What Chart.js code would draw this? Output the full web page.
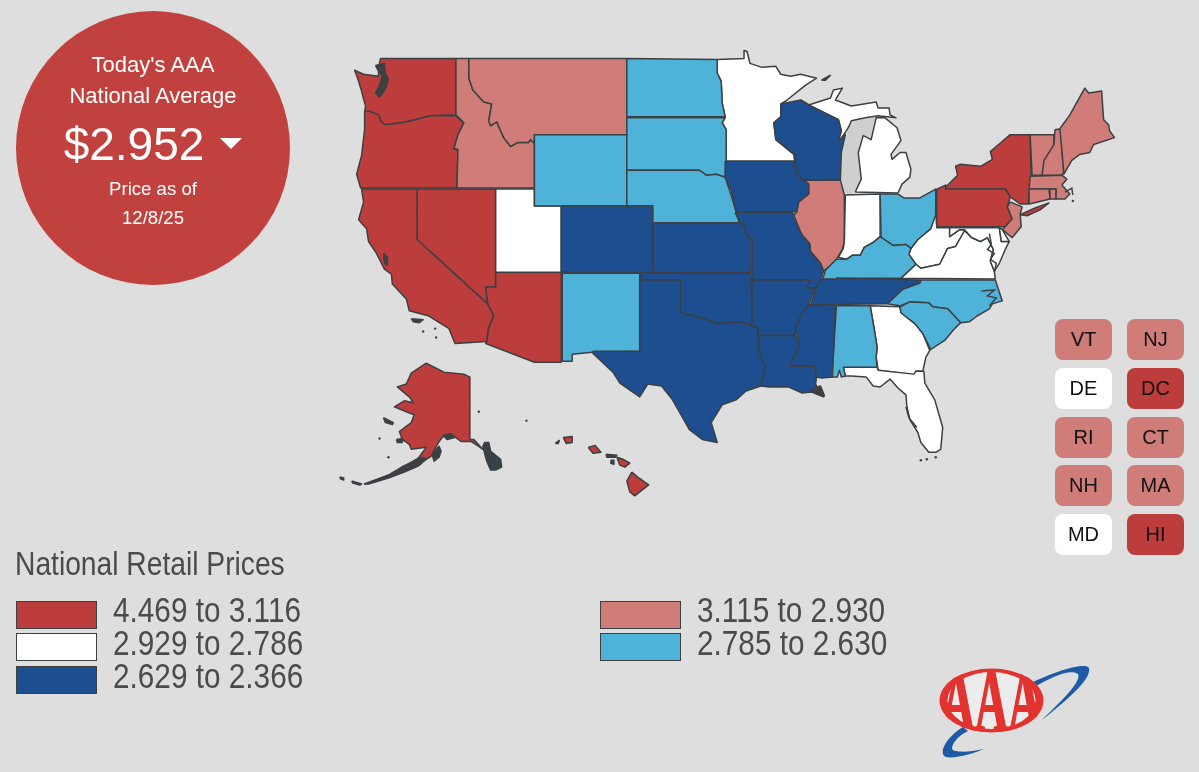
<!DOCTYPE html>
<html>
<head>
<meta charset="utf-8">
<title>AAA National Retail Prices</title>
<script src="https://cdn.jsdelivr.net/npm/chart.js@4"></script>
<style>
  html, body { margin: 0; padding: 0; background: #dedede; }
  #page { position: relative; width: 1199px; height: 772px; overflow: hidden; font-family: "Liberation Sans", Arial, sans-serif; }
  #map { position: absolute; left: 0; top: 0; }
  #badge { position: absolute; left: 16px; top: 11px; width: 274px; height: 274px; border-radius: 50%; background: #c0413e; }
  .bt { position: absolute; left: 16px; width: 274px; text-align: center; color: #fff; line-height: 1; white-space: nowrap; }
  #arrow { position: absolute; left: 220px; top: 138px; width: 0; height: 0; border-left: 11px solid transparent; border-right: 11px solid transparent; border-top: 11px solid #fff; }
  .tile { position: absolute; width: 57px; height: 41px; border-radius: 8px; text-align: center; line-height: 41px; font-size: 20px; color: #111; }
  #legendTitle, .lt { position: absolute; font-family: "Liberation Sans", sans-serif; color: #4b4b4d; white-space: nowrap; line-height: 1; transform-origin: left center; }
  #legendTitle { left: 15px; top: 547px; font-size: 33px; transform: scaleX(.855); }
  .lt { font-size: 35px; transform: scaleX(.85); }
  .sw { position: absolute; width: 79px; height: 26px; border: 1.5px solid #3c4043; }
  #logo { position: absolute; left: 920px; top: 650px; }
</style>
</head>
<body>
<div id="page">
  <canvas id="map" width="1199" height="772"></canvas>
  <div id="badge"></div>
  <div class="bt" style="top:54px;font-size:22px">Today's AAA</div>
  <div class="bt" style="top:85px;font-size:22px">National Average</div>
  <div class="bt" style="top:121px;font-size:46px;left:-3px">$2.952</div>
  <div id="arrow"></div>
  <div class="bt" style="top:180px;font-size:18.6px">Price as of</div>
  <div class="bt" style="top:209px;font-size:18.6px">12/8/25</div>
  <div id="tiles"></div>
  <div id="legendTitle">National Retail Prices</div>
  <div id="legend"></div>
  <svg id="logo" width="190" height="122" viewBox="920 650 190 122">
    <defs><clipPath id="oval"><ellipse cx="991.5" cy="700.5" rx="52" ry="32"/></clipPath></defs>
    <path d="M1033,682 C1058,670 1086,662 1089,668 C1092,680 1062,704 1042,720 C1060,702 1082,682 1078,674 C1070,668 1050,678 1036,686 Z" fill="#1f5aa6"/>
    <path d="M963,727 C945,738 938,754 946,757 C955,759 975,753 984,749 C970,752 955,753 952,749 C952,743 958,736 968,731 Z" fill="#1f5aa6"/>
    <ellipse cx="991.5" cy="700.5" rx="52" ry="32" fill="#e2332f"/>
    <ellipse cx="991.5" cy="700.5" rx="44" ry="28.5" fill="#ececec"/>
    <text clip-path="url(#oval)" x="991.5" y="731" text-anchor="middle" font-family="Liberation Serif" font-weight="bold" font-size="90" fill="#e2332f" stroke="#e2332f" stroke-width="2.2" textLength="100" lengthAdjust="spacingAndGlyphs">AAA</text>
  </svg>
</div>

<script>
// colours for the five price buckets
const RED = '#bc3d3b', PINK = '#d07c79', WHITE = '#ffffff', BLUE = '#1d4e8f', SKY = '#4fb3d9';
const LINE = '#3c4043', LAKE = '#cfcfcf';

// legend and tile values
const legendLabels = ['4.469 to 3.116', '2.929 to 2.786', '2.629 to 2.366', '3.115 to 2.930', '2.785 to 2.630'];
const legendColors = [RED, WHITE, BLUE, PINK, SKY];
const tileLabels = ['VT', 'NJ', 'DE', 'DC', 'RI', 'CT', 'NH', 'MA', 'MD', 'HI'];
const tileColors = [PINK, PINK, WHITE, RED, PINK, PINK, PINK, PINK, WHITE, RED];

// state outlines
const WA = [[379,55],[455,55],[455,112],[429,113],[410,118],[400,120],[384,122],[379,118],[377,112],[367,108],[363,109],[364,103],[362,96],[360,88],[356,75],[353,67],[362,71],[377,73],[377,65]];
const OR = [[363,109],[367,108],[377,112],[379,118],[384,122],[400,120],[410,118],[429,113],[455,113],[463,120],[457,132],[453,146],[457,148],[456,186],[359,186],[355,172],[360,153],[363,127]];
const ID = [[455,55],[468,55],[468,75],[472,87],[483,99],[491,101],[488,118],[490,123],[496,119],[503,135],[510,144],[517,140],[528,140],[530,137],[534,141],[534,186],[456,186],[457,147],[453,146],[457,132],[463,120],[455,112]];
const MT = [[468,55],[627,55],[627,132],[534,132],[534,141],[530,137],[528,140],[517,140],[510,144],[503,135],[496,119],[490,123],[488,118],[491,101],[483,99],[472,87],[468,75]];
const WY = [[534,132],[627,132],[627,204],[534,204]];
const ND = [[627,55],[718,56],[718,70],[722,78],[723,100],[726,114],[627,114]];
const SD = [[627,115],[726,115],[723,120],[727,127],[727,160],[726,175],[717,172],[707,173],[700,168],[627,168]];
const NE = [[627,168],[700,168],[707,173],[717,172],[726,175],[730,187],[735,203],[740,221],[653,221],[653,204],[627,204]];
const MN = [[718,56],[745,55],[745,47],[748,48],[751,60],[763,64],[777,63],[782,71],[792,73],[802,71],[818,75],[807,82],[787,98],[782,101],[782,114],[775,120],[777,137],[795,152],[796,159],[727,159],[727,127],[723,120],[726,114],[723,100],[722,78],[718,70]];
const IA = [[726,159],[796,159],[798,172],[810,182],[810,192],[800,200],[798,210],[737,210],[732,188],[726,175]];
const WI = [[782,101],[802,97],[812,103],[840,117],[843,128],[840,138],[847,132],[843,150],[842,177],[805,178],[798,172],[796,152],[777,137],[775,120],[782,114]];
const IL = [[805,178],[842,178],[846,193],[846,240],[844,248],[838,258],[832,264],[825,270],[822,262],[812,250],[811,242],[803,233],[794,215],[798,210],[800,200],[810,192],[810,182]];
const IN = [[847,193],[882,192],[882,235],[875,241],[866,246],[862,254],[854,254],[848,258],[840,256],[845,247],[846,240]];
const OH = [[882,192],[900,192],[906,196],[922,196],[938,187],[938,213],[933,227],[920,238],[913,247],[908,243],[895,244],[883,236]];
const MI_LOWER = [[857,190],[900,191],[904,182],[912,175],[913,167],[908,150],[902,150],[894,157],[893,152],[903,138],[899,125],[887,115],[878,115],[873,137],[865,133],[860,150],[863,177]];
const MI_UPPER = [[802,97],[810,102],[832,95],[835,87],[844,85],[837,97],[853,103],[878,99],[880,105],[891,105],[892,112],[898,115],[880,113],[867,115],[853,118],[850,125],[842,137],[840,138],[843,128],[840,117],[812,103]];
const KY = [[882,235],[895,244],[908,243],[913,247],[911,253],[918,263],[903,277],[838,277],[838,279],[824,279],[827,269],[832,264],[838,258],[848,258],[854,254],[862,254],[866,246],[875,241]];
const TN = [[838,277],[923,279],[922,282],[905,288],[890,302],[888,303],[812,304],[820,282],[823,278],[838,278]];
const NC = [[923,279],[998,279],[1005,300],[995,303],[992,308],[980,315],[972,321],[963,322],[950,308],[935,306],[931,302],[912,301],[902,305],[889,303],[905,288],[922,282]];
const SC = [[902,306],[912,301],[931,302],[935,306],[950,308],[963,322],[957,328],[947,340],[933,349],[925,333],[917,323],[903,312]];
const GA = [[872,305],[902,306],[903,312],[917,323],[925,333],[932,350],[928,357],[925,371],[918,371],[917,375],[880,370],[878,357],[879,347],[876,328]];
const AL = [[838,305],[872,305],[876,328],[879,347],[878,357],[879,367],[845,367],[847,376],[843,377],[841,370],[839,377],[833,377],[835,353]];
const FL = [[845,367],[879,367],[880,370],[916,374],[918,371],[926,371],[927,383],[937,400],[945,428],[943,450],[938,453],[931,453],[923,443],[920,433],[912,420],[909,407],[908,395],[900,388],[892,379],[882,387],[875,386],[868,377],[853,376],[847,376]];
const MS = [[810,304],[837,304],[835,353],[834,377],[823,378],[818,377],[816,366],[792,366],[792,363],[801,345],[797,327],[803,313]];
const LA = [[760,335],[797,335],[801,345],[792,365],[816,366],[818,377],[817,384],[825,397],[813,392],[803,393],[790,387],[770,387],[762,386],[766,367],[760,350]];
const AR = [[753,279],[812,279],[808,287],[817,287],[810,304],[803,313],[797,327],[797,335],[760,335],[759,327],[753,325]];
const MO = [[736,211],[794,211],[803,233],[811,242],[812,250],[822,262],[825,270],[820,287],[808,287],[812,279],[753,279],[753,237],[747,232],[745,223],[741,220]];
const KS = [[653,221],[740,221],[745,223],[747,232],[752,237],[752,271],[653,271]];
const CO = [[561,204],[653,204],[653,271],[561,271]];
const UT = [[495,187],[534,187],[534,204],[561,204],[561,271],[495,271]];
const NV = [[416,187],[495,187],[495,286],[485,286],[487,303],[416,238]];
const CA = [[360,187],[416,187],[416,238],[487,303],[493,315],[488,327],[486,341],[454,343],[448,328],[427,315],[408,310],[405,298],[391,283],[390,273],[383,268],[375,252],[367,240],[365,227],[357,218],[362,200]];
const AZ = [[495,271],[561,271],[561,362],[534,362],[485,343],[486,341],[488,327],[493,315],[487,303],[485,286],[495,286]];
const NM = [[562,272],[640,272],[640,351],[592,352],[572,354],[572,361],[562,361]];
const TX = [[640,279],[681,279],[681,312],[705,318],[718,323],[743,321],[753,326],[759,327],[760,350],[766,367],[762,386],[747,391],[737,400],[723,405],[712,423],[718,443],[703,440],[690,430],[673,400],[662,386],[648,384],[640,397],[620,383],[613,372],[593,353],[593,351],[640,351]];
const OK = [[641,272],[752,272],[753,325],[743,321],[718,323],[705,318],[681,312],[681,279],[641,279]];
const NY = [[948,185],[960,173],[958,164],[963,162],[983,164],[995,157],[993,149],[1013,132],[1033,132],[1034,173],[1031,202],[1023,202],[1013,195],[1008,187],[948,187]];
const LONG_ISLAND = [[1023,213],[1038,206],[1052,201],[1043,208],[1030,214]];
const PA = [[939,187],[948,183],[948,187],[1008,187],[1013,195],[1010,205],[1015,217],[1008,225],[939,225]];
const NJ = [[1013,200],[1025,205],[1023,212],[1024,225],[1015,236],[1005,228],[1015,217],[1010,205]];
const VT = [[1033,132],[1057,132],[1057,142],[1045,173],[1035,173]];
const NH = [[1058,127],[1064,126],[1065,148],[1067,170],[1065,173],[1045,173],[1047,158],[1057,142]];
const ME = [[1063,126],[1073,112],[1088,85],[1092,90],[1105,88],[1107,117],[1112,122],[1113,128],[1118,135],[1097,142],[1093,150],[1083,152],[1075,158],[1067,172],[1065,148]];
const MA = [[1033,174],[1065,173],[1070,177],[1065,183],[1073,192],[1068,197],[1059,197],[1059,187],[1032,187]];
const CT = [[1032,187],[1052,187],[1053,197],[1032,202]];
const RI = [[1053,187],[1059,187],[1059,197],[1053,197]];
const WV = [[938,210],[939,226],[952,226],[952,235],[962,228],[967,228],[974,236],[967,230],[958,245],[950,247],[942,263],[923,267],[918,263],[911,253],[913,247],[920,238],[933,227]];
const VA = [[903,277],[918,263],[923,267],[942,263],[950,247],[958,245],[967,229],[974,236],[983,240],[990,236],[996,248],[993,260],[997,270],[998,278]];
const MD = [[952,226],[1002,226],[1004,240],[1012,240],[1008,248],[1002,262],[997,270],[993,260],[996,248],[990,236],[983,240],[974,236],[967,228],[962,228],[952,235]];
const DE = [[1002,226],[1005,228],[1012,240],[1004,240]];
const AK = [[425,363],[443,372],[463,374],[469,377],[469,440],[473,440],[482,450],[478,447],[470,442],[460,442],[452,436],[442,437],[438,442],[430,457],[417,465],[403,472],[387,478],[367,484],[363,485],[387,477],[402,468],[417,459],[425,448],[410,450],[408,445],[401,440],[398,432],[410,423],[413,415],[405,412],[393,407],[403,401],[412,403],[409,398],[396,387],[405,384],[410,373]];
const HAWAII = [[632,473],[638,478],[649,486],[635,497],[630,493],[627,482]];
const MAUI = [[617,458],[623,460],[630,464],[625,468],[620,466]];
const OAHU = [[588,448],[595,446],[601,453],[593,454]];
const KAUAI = [[563,438],[572,437],[572,443],[566,444]];

// water and dark island clusters
const LAKE_MICHIGAN = [[843,128],[847,132],[843,150],[842,177],[846,193],[857,190],[863,177],[860,150],[865,133],[873,137],[878,115],[867,115],[853,118],[850,125]];
const PUGET = [[374,62],[383,60],[384,70],[387,76],[384,86],[378,94],[374,90],[378,82],[381,73],[376,66]];
const PANHANDLE = [[482,447],[484,443],[488,443],[490,452],[500,460],[501,468],[495,471],[490,471],[486,462]];
const PENINSULA = [[421,458],[425,460],[417,467],[403,473],[387,479],[367,485],[363,485],[387,476],[402,467]];
const KODIAK = [[431,455],[438,447],[440,452],[438,458],[433,462]];
const COOK_INLET = [[442,436],[450,434],[454,438],[446,440]];
const ST_LAWRENCE = [[382,418],[392,423],[391,425],[384,423]];
const NUNIVAK = [[395,440],[401,439],[401,443],[396,443]];
const ALEUT_A = [[338,478],[342,479],[342,481],[339,480]];
const ALEUT_B = [[350,482],[360,485],[358,486],[351,484]];
const SF_BAY = [[382,252],[386,256],[386,264],[383,262]];
const CHANNEL_A = [[410,318],[422,319],[418,322],[412,321]];
const ROYALE = [[823,77],[832,72],[827,77]];
const MOLOKAI = [[606,455],[617,456],[616,458],[607,458]];
const LANAI = [[611,461],[614,461],[614,465],[611,464]];
const NIIHAU = [[555,444],[559,441],[558,444]];
const LA_DELTA = [[812,390],[822,386],[826,396],[818,394]];

// thin coast and bay lines
const CHESAPEAKE = [[992,232],[994,243],[990,248],[997,252],[993,258],[999,262],[997,271]];
const PAMLICO = [[984,290],[997,289],[990,295],[999,297],[992,305]];
const EVERGLADES = [[908,407],[911,418],[919,428]];
const CAPE_COD = [[1068,190],[1075,186],[1076,193]];

// tiny dots offshore
const specks = [[478,412],[526,421],[378,439],[387,458],[434,328],[422,331],[435,337],[923,461],[929,460],[938,458],[1076,199]];

const shapes = [
  [LAKE_MICHIGAN, LAKE, LAKE],
  [WA, RED], [OR, RED], [CA, RED], [NV, RED], [AZ, RED], [NY, RED], [PA, RED], [LONG_ISLAND, RED], [AK, RED],
  [HAWAII, RED], [MAUI, RED], [OAHU, RED], [KAUAI, RED],
  [ID, PINK], [MT, PINK], [IL, PINK], [NJ, PINK], [VT, PINK], [NH, PINK], [ME, PINK], [MA, PINK], [CT, PINK], [RI, PINK],
  [UT, WHITE], [MN, WHITE], [MI_LOWER, WHITE], [MI_UPPER, WHITE], [IN, WHITE], [WV, WHITE], [VA, WHITE], [MD, WHITE], [DE, WHITE], [GA, WHITE], [FL, WHITE],
  [WY, SKY], [ND, SKY], [SD, SKY], [NE, SKY], [NM, SKY], [OH, SKY], [KY, SKY], [NC, SKY], [SC, SKY], [AL, SKY],
  [CO, BLUE], [KS, BLUE], [IA, BLUE], [WI, BLUE], [MO, BLUE], [OK, BLUE], [TX, BLUE], [AR, BLUE], [LA, BLUE], [MS, BLUE], [TN, BLUE],
  [PUGET, LINE], [PANHANDLE, LINE], [PENINSULA, LINE], [KODIAK, LINE], [COOK_INLET, LINE], [ST_LAWRENCE, LINE], [NUNIVAK, LINE], [ALEUT_A, LINE], [ALEUT_B, LINE],
  [SF_BAY, LINE], [CHANNEL_A, LINE], [ROYALE, LINE], [MOLOKAI, LINE], [LANAI, LINE], [NIIHAU, LINE], [LA_DELTA, LINE]
];
const openLines = [CHESAPEAKE, PAMLICO, EVERGLADES, CAPE_COD];

const toXY = p => ({ x: p[0], y: p[1] });

const datasets = shapes.map(s => ({
  data: s[0].concat([s[0][0]]).map(toXY),
  showLine: true,
  fill: 'shape',
  backgroundColor: s[1],
  borderColor: s[2] || LINE,
  borderWidth: 1.5,
  borderJoinStyle: 'round',
  pointRadius: 0,
  tension: 0
}));
openLines.forEach(l => datasets.push({
  data: l.map(toXY), showLine: true, fill: false, borderColor: LINE, borderWidth: 1.5, pointRadius: 0
}));
datasets.push({
  data: specks.map(toXY), showLine: false, pointRadius: 1.2, pointBackgroundColor: LINE, pointBorderWidth: 0
});

// Chart.js paints dataset 0 last, so flip the list to keep the paint order above
new Chart(document.getElementById('map'), {
  type: 'scatter',
  data: { datasets: datasets.reverse() },
  options: {
    responsive: false,
    animation: false,
    layout: { padding: 0 },
    plugins: { legend: { display: false }, tooltip: { enabled: false } },
    scales: {
      x: { type: 'linear', min: 0, max: 1199, display: false },
      y: { type: 'linear', min: 0, max: 772, reverse: true, display: false }
    }
  }
});

// tiles on the right
document.getElementById('tiles').innerHTML = tileLabels.map((t, i) => {
  const left = i % 2 ? 1127 : 1055;
  const top = [319, 368, 417, 465, 514][Math.floor(i / 2)];
  return `<div class="tile" style="left:${left}px;top:${top}px;background:${tileColors[i]}">${t}</div>`;
}).join('');

// legend below the map
const swatchTops = [601, 633, 666];
const textTops = [592, 625, 658];
document.getElementById('legend').innerHTML = legendLabels.map((t, i) => {
  const second = i > 2;
  const row = second ? i - 3 : i;
  const swLeft = second ? 600 : 16;
  const txLeft = second ? 697 : 113;
  return `<div class="sw" style="left:${swLeft}px;top:${swatchTops[row]}px;background:${legendColors[i]}"></div>` +
         `<div class="lt" style="left:${txLeft}px;top:${textTops[row]}px">${t}</div>`;
}).join('');
</script>
</body>
</html>
